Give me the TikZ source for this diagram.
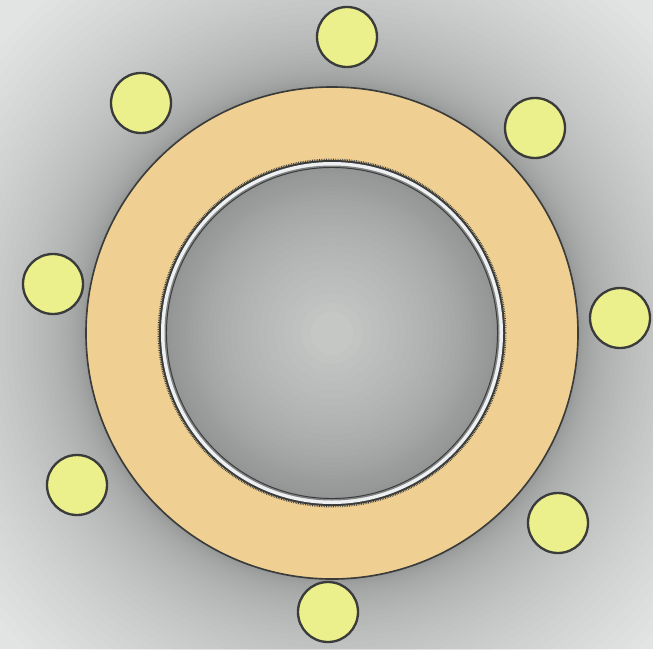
\documentclass[tikz,border=0pt]{standalone}
\usepackage{xcolor}
\definecolor{bglight}{RGB}{226,228,227}
\definecolor{shadow}{RGB}{62,64,64}
\definecolor{ringfill}{RGB}{240,208,146}
\definecolor{padfill}{RGB}{236,240,140}
\definecolor{edge}{RGB}{58,60,60}
\definecolor{holemid}{RGB}{196,199,196}
\definecolor{holeedge}{RGB}{118,121,121}
\definecolor{bandfill}{RGB}{238,239,241}
\definecolor{bandgray}{RGB}{128,131,131}

\begin{document}
\begin{tikzpicture}[x=0.03cm, y=-0.03cm]
    \tikzset{pad/.style={circle, draw=edge, line width=2pt, fill=padfill, minimum size=1.8cm, inner sep=0pt}}
    \useasboundingbox (0,0) rectangle (653,649);
    % background with soft shadow round the ring
    \begin{scope}
        \clip (0,0) rectangle (653,649);
        \fill[bglight] (0,0) rectangle (653,649);
        \foreach \k in {0,...,40}
            \fill[shadow, opacity=0.0115] (332,333) circle ({246+0.12*\k*\k});
    \end{scope}
    % orange ring
    \draw[edge, line width=1.4pt, fill=ringfill] (332,333) circle (246);
    % rough inner edge of the ring
    \draw[edge, line width=1.6pt, dash pattern=on 0.6pt off 0.9pt] (332,333) circle (173.5);
    % thin band
    \fill[edge] (332,333) circle (173);
    \fill[bandfill] (332,333) circle (171);
    \fill[bandgray] (332,333) circle (167.5);
    % hole, darker towards its rim
    \fill[holemid] (332,333) circle (165.5);
    \foreach \k in {0,...,30}
        \fill[holeedge, opacity=0.028, even odd rule] (332,333) circle (165.5) circle ({165.5-0.16*\k*\k});
    \draw[edge, line width=0.8pt] (332,333) circle (165.5);
    % pads around the ring
    \foreach \px/\py/\nm in {347/37/p1, 141/103/p2, 535/128/p3, 53/284/p4, 620/318/p5, 77/485/p6, 558/523/p7, 328/612/p8} {
        \node[pad] (\nm) at (\px,\py) {};
    }
\end{tikzpicture}
\end{document}
